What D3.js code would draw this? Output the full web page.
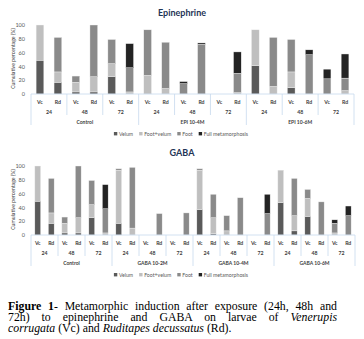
<!DOCTYPE html>
<meta charset="utf-8">
<script src="https://d3js.org/d3.v7.min.js"></script>
<style>
  body { margin: 0; background: #fff; width: 364px; height: 339px; overflow: hidden; position: relative; }
  svg text { font-family: Lato, "Open Sans", sans-serif; }
  #caption { position: absolute; left: 8px; top: 301px; width: 329px;
    font-family: "Liberation Serif", "Times New Roman", serif; font-size: 11.8px; line-height: 10.8px; color: #000; }
  #caption div.j { text-align: justify; text-align-last: justify; }
</style>
<div id="charts"></div>
<div id="caption">
  <div class="j"><b>Figure 1</b>- Metamorphic induction after exposure (24h, 48h and</div>
  <div class="j">72h) to epinephrine and GABA on larvae of <i>Venerupis</i></div>
  <div><i>corrugata</i> (Vc) and <i>Ruditapes decussatus</i> (Rd).</div>
</div>
<script>
// stacked classes, bottom to top
const stages = ["Velum", "Foot+velum", "Foot", "Full metamorphosis"];
const species = ["Vc", "Rd"];
const times = ["24", "48", "72"];
const yTicks = [0, 20, 40, 60, 80, 100];

// Epinephrine: bars ordered group > time > species
const epiGroups = ["Control", "EPI 10-4M", "EPI 10-6M"];
const epiVelum     = [49, 17,  3,  3, 25,  0,   0,  0,  0,  0,  0,  0,  41,  0,  9,  0,  0,  0];
const epiFootVelum = [51, 15, 14, 22, 19,  3,  27,  8,  0,  0,  0,  2,  52, 11, 23,  0,  0,  5];
const epiFoot      = [ 0, 50,  9, 75, 35, 35,  66, 67, 15, 72,  0, 28,   0, 71, 47, 57, 22, 18];
const epiFull      = [ 0,  0,  0,  0,  0, 35,   0,  0,  3,  2,  0, 31,   0,  0,  0,  7, 14, 35];

// GABA
const gabaGroups = ["Control", "GABA 10-2M", "GABA 10-4M", "GABA 10-6M"];
const gabaVelum     = [49, 17,  3,  3, 25,  0,  17,  0,  0,  0,  0,  0,  37,  2,  0,  0,  0,  0,  47,  6, 27,  0,  0,  0];
const gabaFootVelum = [51, 15, 14, 22, 19,  3,  77, 10,  0,  0,  0,  0,  57, 23,  6,  0,  0,  0,  47, 22, 26,  0,  3,  0];
const gabaFoot      = [ 0, 50,  9, 75, 35, 35,   2, 88,  0, 31,  0, 32,   2, 34, 22, 54,  0, 31,   0, 54, 13, 48, 14, 28];
const gabaFull      = [ 0,  0,  0,  0,  0, 35,   0,  0,  0,  0,  0,  0,   0,  0,  0,  0,  0, 28,   0,  0,  0,  0,  5, 14];

const stageColor = d3.scaleOrdinal().domain(stages).range(["#5a5a5a", "#bfbfbf", "#8a8a8a", "#232323"]);
const axisColor = "#c6d9ee";
const textColor = "#404040";

const svg = d3.select("#charts").append("svg")
  .attr("width", 364).attr("height", 295)
  .style("position", "absolute").style("left", 0).style("top", 0);

function drawChart(cfg) {
  const g = svg.append("g");
  const nPairs = cfg.groups.length * times.length;

  // build one row per bar
  const rows = [];
  cfg.groups.forEach((grp, gi) => times.forEach((t, ti) => species.forEach((s, si) => {
    const i = (gi * times.length + ti) * 2 + si;
    rows.push({ key: i, group: grp, time: t, sp: s, pair: gi * times.length + ti,
      "Velum": cfg.velum[i], "Foot+velum": cfg.footVelum[i], "Foot": cfg.foot[i], "Full metamorphosis": cfg.full[i] });
  })));

  const x = d3.scaleBand().domain(rows.map(d => d.key)).range([cfg.x0, cfg.x1])
    .paddingInner(0.57).paddingOuter(0.285);
  const pairX = d3.scaleBand().domain(d3.range(nPairs)).range([cfg.x0, cfg.x1]);
  const groupX = d3.scaleBand().domain(cfg.groups).range([cfg.x0, cfg.x1]);
  const y = d3.scaleLinear().domain([0, 100]).range([cfg.yBase, cfg.yTop]);

  // title
  g.append("text").attr("x", 182).attr("y", cfg.titleY).attr("text-anchor", "middle")
    .attr("font-size", 9).attr("font-weight", 700).attr("fill", "#1f3556").text(cfg.title);

  // y axis labels only
  const ya = g.append("g").attr("transform", `translate(${cfg.x0 - 6},0)`)
    .call(d3.axisLeft(y).tickValues(yTicks).tickSize(0).tickPadding(0));
  ya.select(".domain").remove();
  ya.selectAll("text").attr("font-size", 5.5).attr("fill", "#595959").attr("font-family", "Lato");

  g.append("text")
    .attr("transform", `translate(${cfg.x0 - 18},${(cfg.yTop + cfg.yBase) / 2 - 1}) rotate(-90)`)
    .attr("text-anchor", "middle").attr("dy", "0.35em")
    .attr("font-size", 5.2).attr("fill", textColor).text("Cumulative percentage (%)");

  // stacked bars
  const stack = d3.stack().keys(stages)(rows);
  g.append("g").selectAll("g").data(stack).join("g")
    .attr("fill", d => stageColor(d.key))
    .selectAll("rect").data(d => d.filter(p => p[1] > p[0])).join("rect")
      .attr("x", d => x(d.data.key))
      .attr("width", x.bandwidth())
      .attr("y", d => y(d[1]))
      .attr("height", d => y(d[0]) - y(d[1]))
      .attr("stroke", "#f2f2f2").attr("stroke-width", 0.4);

  // multi-level category axis
  const ax = g.append("g").attr("stroke", axisColor).attr("stroke-width", 0.8);
  ax.append("line").attr("x1", cfg.x0).attr("x2", cfg.x1).attr("y1", cfg.yBase).attr("y2", cfg.yBase);
  ax.selectAll("line.pair").data(d3.range(nPairs + 1)).join("line").attr("class", "pair")
    .attr("x1", d => d < nPairs ? pairX(d) : cfg.x1).attr("x2", d => d < nPairs ? pairX(d) : cfg.x1)
    .attr("y1", cfg.yBase)
    .attr("y2", d => d % times.length === 0 ? cfg.yBase + 31 : cfg.yBase + 21);

  g.append("g").selectAll("text").data(rows).join("text")
    .attr("x", d => x(d.key) + x.bandwidth() / 2).attr("y", cfg.yBase + 10)
    .attr("text-anchor", "middle").attr("font-size", 5.2).attr("font-weight", 700)
    .attr("fill", textColor).text(d => d.sp);

  g.append("g").selectAll("text").data(d3.range(nPairs)).join("text")
    .attr("x", d => pairX(d) + pairX.bandwidth() / 2).attr("y", cfg.yBase + 20)
    .attr("text-anchor", "middle").attr("font-size", 5.2).attr("font-weight", 700)
    .attr("fill", textColor).text(d => times[d % times.length]);

  g.append("g").selectAll("text").data(cfg.groups).join("text")
    .attr("x", d => groupX(d) + groupX.bandwidth() / 2).attr("y", cfg.yBase + 30)
    .attr("text-anchor", "middle").attr("font-size", 5).attr("font-weight", 700)
    .attr("fill", textColor).text(d => d);

  // legend, centred under the plot
  const lg = g.append("g").attr("transform", `translate(0,${cfg.legendY})`);
  const items = lg.selectAll("g").data(stages).join("g");
  items.append("rect").attr("width", 3.4).attr("height", 3.4).attr("y", -3)
    .attr("fill", d => stageColor(d));
  items.append("text").attr("x", 5).attr("y", 0.6).attr("font-size", 5.2)
    .attr("fill", "#595959").text(d => d);
  let cx = 0;
  items.each(function () {
    d3.select(this).attr("transform", `translate(${cx},0)`);
    cx += 5 + this.querySelector("text").getComputedTextLength() + 6;
  });
  const lw = cx - 6;
  lg.attr("transform", `translate(${181 - lw / 2},${cfg.legendY})`);
}

drawChart({ title: "Epinephrine", titleY: 16, groups: epiGroups,
  velum: epiVelum, footVelum: epiFootVelum, foot: epiFoot, full: epiFull,
  x0: 31, x1: 354, yTop: 25, yBase: 94, legendY: 135 });

drawChart({ title: "GABA", titleY: 156, groups: gabaGroups,
  velum: gabaVelum, footVelum: gabaFootVelum, foot: gabaFoot, full: gabaFull,
  x0: 31, x1: 355, yTop: 166, yBase: 235, legendY: 276 });
</script>
